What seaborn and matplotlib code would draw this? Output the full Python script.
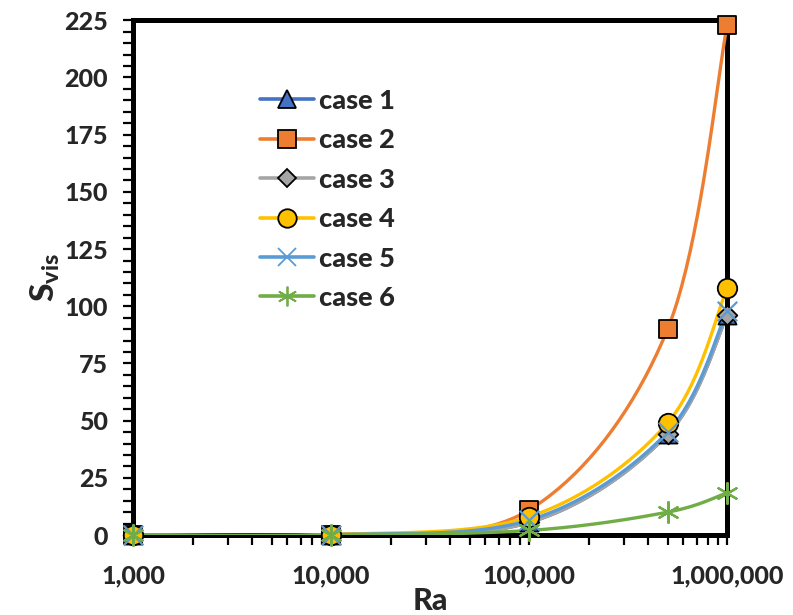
import numpy as np
import pandas as pd
import matplotlib
matplotlib.use("Agg")
import matplotlib.pyplot as plt
import matplotlib.ticker as mticker
from matplotlib.lines import Line2D
import seaborn as sns

# ---- data ----
ra = [1000, 10000, 100000, 500000, 1000000]
case1 = [0.02, 0.1, 5.5, 44, 96]
case2 = [0.03, 0.2, 11, 90, 223]
case3 = [0.02, 0.1, 5.5, 44, 96]
case4 = [0.03, 0.15, 8, 49, 108]
case5 = [0.02, 0.1, 6.5, 45, 98]
case6 = [0.01, 0.05, 2, 10, 18.5]
labels = ["case 1", "case 2", "case 3", "case 4", "case 5", "case 6"]
series = [case1, case2, case3, case4, case5, case6]
x_ticks = [1000, 10000, 100000, 1000000]
y_ticks = [0, 25, 50, 75, 100, 125, 150, 175, 200, 225]

colors = ["#4472C4", "#ED7D31", "#A5A5A5", "#FFC000", "#5B9BD5", "#70AD47"]
markers = ["^", "s", "D", "o", "x", (6, 2, 0)]
msizes = [13, 13, 10, 14, 14, 15]

W = "black"
sns.set_style("white")
plt.rcParams["font.family"] = ["Lato", "DejaVu Sans"]
plt.rcParams["font.weight"] = W
plt.rcParams["mathtext.fontset"] = "custom"
plt.rcParams["mathtext.bf"] = "Lato:black"
plt.rcParams["mathtext.rm"] = "Lato:black"
plt.rcParams["mathtext.it"] = "Lato:black"


def smooth(xs, ys, n=40):
    # Catmull-Rom (Excel-like smoothing) in log10(x) space
    px = np.log10(np.asarray(xs, float))
    py = np.asarray(ys, float)
    P = np.column_stack([px, py])
    P = np.vstack([P[0], P, P[-1]])
    out = []
    for i in range(1, len(P) - 2):
        p0, p1, p2, p3 = P[i - 1], P[i], P[i + 1], P[i + 2]
        c1 = p1 + (p2 - p0) / 6.0
        c2 = p2 - (p3 - p1) / 6.0
        t = np.linspace(0, 1, n)[:, None]
        b = ((1 - t) ** 3) * p1 + 3 * ((1 - t) ** 2) * t * c1 + 3 * (1 - t) * t ** 2 * c2 + t ** 3 * p2
        out.append(b if i == 1 else b[1:])
    out = np.vstack(out)
    return 10 ** out[:, 0], out[:, 1]


fig = plt.figure(figsize=(7.93, 6.15), dpi=100)
ax = fig.add_axes([0.168, 0.130, 0.749, 0.837])

for i, (lab, ys) in enumerate(zip(labels, series)):
    sx, sy = smooth(ra, ys)
    dfl = pd.DataFrame({"Ra": sx, "S": sy})
    sns.lineplot(data=dfl, x="Ra", y="S", ax=ax, color=colors[i], lw=2.4,
                 sort=False, estimator=None, zorder=2 + i)
    dfp = pd.DataFrame({"Ra": ra, "S": ys})
    ec = colors[i] if markers[i] in ("x",) or isinstance(markers[i], tuple) else "black"
    sns.scatterplot(data=dfp, x="Ra", y="S", ax=ax, marker=markers[i],
                    s=msizes[i] ** 2, color=colors[i], edgecolor=ec,
                    linewidth=1.3 if ec == "black" else 1.6, zorder=10 + i, clip_on=False)

ax.set_xscale("log")
ax.set_xlim(1000, 1000000)
ax.set_ylim(0, 225)
ax.set_xticks(x_ticks)
ax.xaxis.set_major_formatter(mticker.FuncFormatter(lambda v, p: f"{int(round(v)):,}"))
ax.xaxis.set_minor_locator(mticker.LogLocator(base=10, subs=np.arange(2, 10)))
ax.xaxis.set_minor_formatter(mticker.NullFormatter())
ax.set_yticks(y_ticks)
ax.yaxis.set_minor_locator(mticker.MultipleLocator(5))

ax.tick_params(axis="both", which="both", direction="out", color="black",
               width=1.6, length=7)
ax.tick_params(axis="both", which="major", labelsize=18)
ax.tick_params(axis="y", which="both", left=True, pad=11)
ax.tick_params(axis="x", which="both", bottom=True, pad=14)
for lbl in ax.get_xticklabels() + ax.get_yticklabels():
    lbl.set_fontweight(W)

for sp in ax.spines.values():
    sp.set_visible(True)
    sp.set_color("black")
    sp.set_linewidth(3.6)

ax.set_xlabel("Ra", fontsize=22, fontweight=W, labelpad=0)
ax.set_ylabel(r"$\mathbf{S_{vis}}$", fontsize=24, fontweight=W, labelpad=2)
ax.grid(False)

handles = []
for i, lab in enumerate(labels):
    ec = colors[i] if markers[i] == "x" or isinstance(markers[i], tuple) else "black"
    handles.append(Line2D([0], [0], color=colors[i], lw=2.6, marker=markers[i],
                          markersize=msizes[i] * 0.95, markerfacecolor=colors[i],
                          markeredgecolor=ec, markeredgewidth=1.3))
leg = ax.legend(handles, labels, loc="upper left", bbox_to_anchor=(0.195, 0.888),
                frameon=False, fontsize=19.5, handlelength=2.0, labelspacing=0.57,
                handletextpad=0.2, borderaxespad=0)
for t in leg.get_texts():
    t.set_fontweight(W)

fig.savefig("out.png", dpi=100)
